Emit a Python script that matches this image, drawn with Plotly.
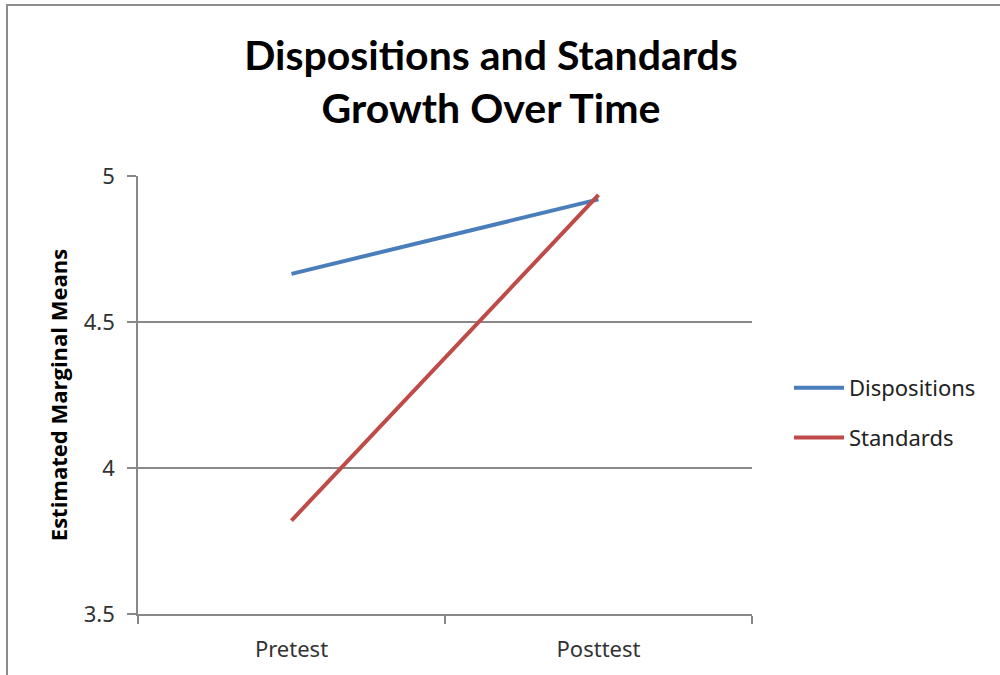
import plotly.graph_objects as go

categories = ["Pretest", "Posttest"]
dispositions = [4.665, 4.92]
standards = [3.82, 4.935]
y_ticks = [3.5, 4, 4.5, 5]
y_tick_labels = ["3.5", "4", "4.5", "5"]

L, R, T, B = 138, 248, 176, 61
W, H = 1000, 675
pw, ph = W - L - R, H - T - B

fig = go.Figure()
fig.add_trace(go.Scatter(x=categories, y=dispositions, mode="lines", name="Dispositions",
                         legendgroup="d", line=dict(color="#4A7EBB", width=4)))
fig.add_trace(go.Scatter(x=categories, y=standards, mode="lines", name="Standards",
                         legendgroup="s", line=dict(color="#BE4B48", width=4)))

fig.update_layout(
    width=W, height=H,
    margin=dict(l=L, r=R, t=T, b=B),
    paper_bgcolor="white", plot_bgcolor="white",
    title=dict(text="Dispositions and Standards<br>Growth Over Time",
               x=491 / W, xref="container", xanchor="center",
               y=1 - 70 / H, yref="container", yanchor="middle",
               font=dict(family="Lato", size=41, color="black", weight="bold")),
    legend=dict(x=789 / W, xref="container", xanchor="left",
                y=1 - 413 / H, yref="container", yanchor="middle",
                font=dict(family="Noto Sans", size=22, color="#222222"),
                bgcolor="rgba(0,0,0,0)", traceorder="grouped", tracegroupgap=18,
                itemwidth=50),
    showlegend=True,
)

fig.update_xaxes(type="category", tickson="boundaries", ticks="outside", ticklen=8,
                 tickcolor="#888888", tickwidth=1.5, showgrid=False,
                 showline=True, linecolor="#888888", linewidth=1.5,
                 tickfont=dict(family="Noto Sans", size=22, color="#333333"),
                 ticklabelstandoff=15, range=[-0.5, 1.5])
fig.update_yaxes(range=[3.5, 5], tickvals=y_ticks, ticktext=y_tick_labels,
                 ticks="outside", ticklen=9, tickcolor="#888888", tickwidth=1.5,
                 showgrid=True, gridcolor="#888888", gridwidth=1.5,
                 showline=True, linecolor="#888888", linewidth=1.5,
                 zeroline=False,
                 tickfont=dict(family="Noto Sans", size=22, color="#333333"),
                 ticklabelstandoff=8,
                 title=dict(text="Estimated Marginal Means", standoff=10,
                            font=dict(family="Open Sans", size=22, color="black", weight="bold")))

# chart frame (top and left border)
fig.add_shape(type="rect", xref="paper", yref="paper",
              x0=(7 - L) / pw, x1=(1010 - L) / pw,
              y0=(H - B - 690) / ph, y1=(H - B - 5) / ph,
              line=dict(color="#8C8C8C", width=2), fillcolor="rgba(0,0,0,0)", layer="below")

fig.write_html("out.html")
